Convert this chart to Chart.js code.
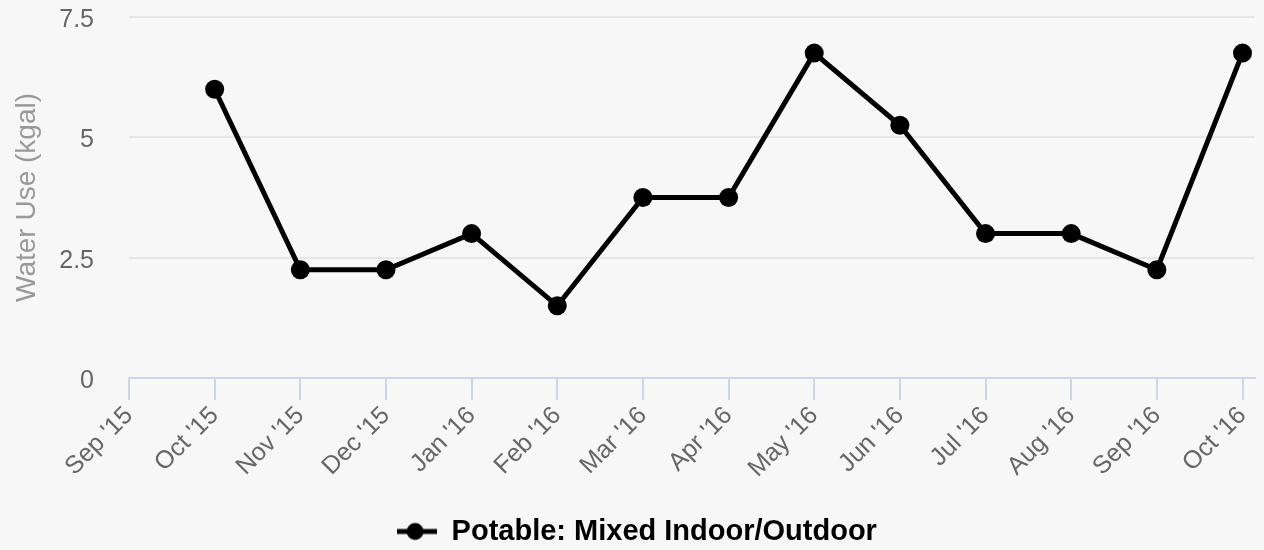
<!DOCTYPE html>
<html>
<head>
<meta charset="utf-8">
<script src="https://cdn.jsdelivr.net/npm/chart.js@4.4.1/dist/chart.umd.min.js"></script>
<style>
  html, body { margin: 0; padding: 0; background: #f7f7f7; overflow: hidden; }
</style>
</head>
<body>
<canvas id="waterChart" width="1264" height="550"></canvas>
<script>
// months on the x axis, Sep '15 has no reading
const months = ["Sep '15", "Oct '15", "Nov '15", "Dec '15", "Jan '16", "Feb '16", "Mar '16",
                "Apr '16", "May '16", "Jun '16", "Jul '16", "Aug '16", "Sep '16", "Oct '16"];
const waterUse = [null, 6, 2.25, 2.25, 3, 1.5, 3.75, 3.75, 6.75, 5.25, 3, 3, 2.25, 6.75];
const yTicks = [0, 2.5, 5, 7.5];
const seriesName = "Potable: Mixed Indoor/Outdoor";

// legend symbol: short line with a dot, like the series
function legendSymbol() {
    const c = document.createElement('canvas');
    c.width = 40; c.height = 20;
    const g = c.getContext('2d');
    g.strokeStyle = '#000';
    g.lineWidth = 5;
    g.beginPath(); g.moveTo(0, 10); g.lineTo(40, 10); g.stroke();
    g.fillStyle = '#000';
    g.beginPath(); g.arc(18, 10, 8.5, 0, Math.PI * 2); g.fill();
    return c;
}
const symbol = legendSymbol();

const bg = {
    id: 'bg',
    beforeDraw(chart) {
        const ctx = chart.ctx;
        ctx.save();
        ctx.fillStyle = '#f7f7f7';
        ctx.fillRect(0, 0, chart.width, chart.height);
        ctx.restore();
    }
};

// nudge the legend a bit down and right
const legendShift = {
    id: 'legendShift',
    afterLayout(chart) {
        const lg = chart.legend;
        lg.top += 6; lg.bottom += 6;
        lg.left += 8; lg.right += 8;
    }
};

const ctx = document.getElementById('waterChart').getContext('2d');
const chart = new Chart(ctx, {
    type: 'line',
    data: {
        datasets: [{
            label: seriesName,
            data: months.map((m, i) => ({ x: i, y: waterUse[i] })),
            borderColor: '#000',
            backgroundColor: '#000',
            borderWidth: 5,
            pointRadius: 9.5,
            pointHoverRadius: 9.5,
            pointBackgroundColor: '#000',
            pointBorderWidth: 0,
            tension: 0
        }]
    },
    options: {
        responsive: false,
        animation: false,
        devicePixelRatio: 1,
        layout: { padding: { top: 17, right: 6, left: 0, bottom: 0 } },
        plugins: {
            legend: {
                position: 'bottom',
                labels: {
                    usePointStyle: true,
                    pointStyleWidth: 40,
                    padding: 10,
                    color: '#333',
                    font: { family: 'Liberation Sans, Arial, sans-serif', size: 29, weight: 'bold' },
                    generateLabels: (c) => [{
                        text: seriesName,
                        pointStyle: symbol,
                        fillStyle: '#000',
                        strokeStyle: '#000',
                        lineWidth: 0,
                        datasetIndex: 0
                    }]
                }
            },
            tooltip: { enabled: false }
        },
        scales: {
            x: {
                type: 'linear',
                min: 0,
                max: 13.14,
                afterFit: (s) => { s.height = 123; s.paddingLeft = 0; s.paddingRight = 0; },
                afterBuildTicks: (s) => { s.ticks = months.map((m, i) => ({ value: i })); },
                ticks: {
                    autoSkip: false,
                    maxRotation: 45,
                    minRotation: 45,
                    padding: 1,
                    color: '#666',
                    font: { family: 'Liberation Sans, Arial, sans-serif', size: 25 },
                    callback: (v) => months[v]
                },
                grid: {
                    drawOnChartArea: false,
                    drawTicks: true,
                    tickLength: 22,
                    color: '#ccd6eb',
                    lineWidth: 2
                },
                border: { display: true, color: '#ccd6eb', width: 2 }
            },
            y: {
                min: 0,
                max: 7.5,
                afterFit: (s) => { s.width = 129; s.paddingTop = 0; s.paddingBottom = 0; },
                afterBuildTicks: (s) => { s.ticks = yTicks.map(v => ({ value: v })); },
                ticks: {
                    padding: 35,
                    labelOffset: 3,
                    color: '#666',
                    font: { family: 'Liberation Sans, Arial, sans-serif', size: 25 },
                    callback: (v) => String(v)
                },
                grid: { drawTicks: false, color: '#e6e6e6', lineWidth: 2 },
                border: { display: false },
                title: {
                    display: true,
                    text: 'Water Use (kgal)',
                    color: '#999',
                    padding: { top: 10, bottom: 0 },
                    font: { family: 'Liberation Sans, Arial, sans-serif', size: 28 }
                }
            }
        }
    },
    plugins: [bg, legendShift]
});
</script>
</body>
</html>
